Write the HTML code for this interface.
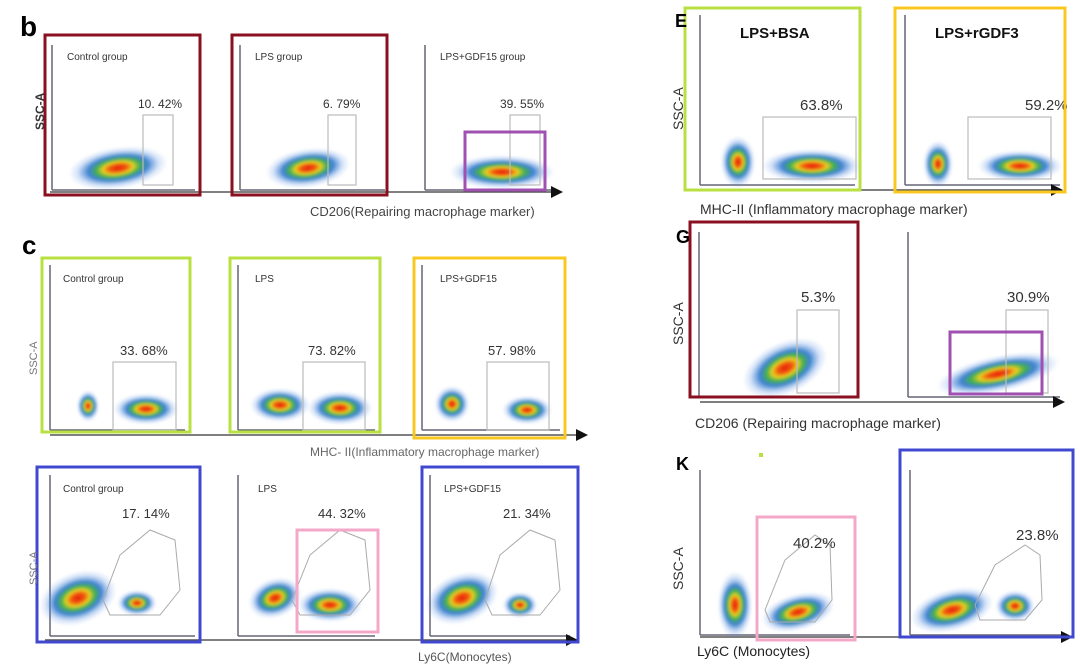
<!DOCTYPE html>
<html><head><meta charset="utf-8">
<style>
html,body{margin:0;padding:0;background:#fff;}
svg{display:block;font-family:"Liberation Sans",sans-serif;}
</style></head>
<body>
<svg id="fig" width="1080" height="670" viewBox="0 0 1080 670" xmlns="http://www.w3.org/2000/svg">
<defs>
<radialGradient id="heat" cx="50%" cy="50%" r="50%">
<stop offset="0" stop-color="#e81c0c"/>
<stop offset="0.22" stop-color="#f05a10"/>
<stop offset="0.38" stop-color="#e8d020"/>
<stop offset="0.55" stop-color="#40b050"/>
<stop offset="0.75" stop-color="#2a70d8" stop-opacity="0.85"/>
<stop offset="1" stop-color="#6a9ae8" stop-opacity="0"/>
</radialGradient>
<filter id="soft"><feGaussianBlur stdDeviation="1.2"/></filter>
<marker id="arr" markerWidth="8" markerHeight="8" refX="6" refY="4" orient="auto"><path d="M0,0 L8,4 L0,8 z" fill="#111"/></marker>
</defs>
</svg>
<script>
// ---- data ----
const panelTitles = ["Control group","LPS group","LPS+GDF15 group","Control group","LPS","LPS+GDF15","Control group","LPS","LPS+GDF15","LPS+BSA","LPS+rGDF3","","","",""];
const percentValues = ["10. 42%","6. 79%","39. 55%","33. 68%","73. 82%","57. 98%","17. 14%","44. 32%","21. 34%","63.8%","59.2%","5.3%","30.9%","40.2%","23.8%"];
const axisTitles = ["CD206(Repairing macrophage marker)","MHC- II(Inflammatory macrophage marker)","Ly6C(Monocytes)","MHC-II (Inflammatory macrophage marker)","CD206 (Repairing macrophage marker)","Ly6C (Monocytes)"];
const panelLetters = ["b","c","E","G","K"];

// ---- layout ----
const svg = document.getElementById('fig');
const NS = "http://www.w3.org/2000/svg";
function mk(tag, attrs, parent){const e=document.createElementNS(NS,tag);for(const k in attrs)e.setAttribute(k,attrs[k]);(parent||svg).appendChild(e);return e;}
function txt(x,y,s,size,opts){opts=opts||{};const t=mk('text',{x:x,y:y,'font-size':size,fill:opts.fill||'#222','font-weight':opts.bold?'bold':'normal'});if(opts.rot)t.setAttribute('transform','rotate(-90 '+x+' '+y+')');if(opts.anchor)t.setAttribute('text-anchor',opts.anchor);t.textContent=s;return t;}

// plot layout: y-axis x, top, bottom, right end; title pos; pct pos; gate; blobs [cx,cy,rx,ry,rot]
const L = [
 {ax:52,top:45,bot:190,right:195,tx:67,ty:60,ts:10,px:138,py:108,ps:12,gate:[143,115,30,70],blobs:[[118,168,40,16,-8]]},
 {ax:240,top:45,bot:190,right:385,tx:255,ty:60,ts:10,px:323,py:108,ps:12,gate:[328,115,28,70],blobs:[[308,168,34,15,-8]]},
 {ax:425,top:45,bot:190,right:555,tx:440,ty:60,ts:10,px:500,py:108,ps:12,gate:[510,115,30,70],blobs:[[502,172,42,13,0]]},
 {ax:50,top:265,bot:430,right:185,tx:63,ty:282,ts:10,px:120,py:355,ps:13,gate:[113,362,63,68],blobs:[[88,406,9,12,0],[146,409,26,12,0]]},
 {ax:238,top:265,bot:430,right:375,tx:255,ty:282,ts:10,px:308,py:355,ps:13,gate:[303,362,62,68],blobs:[[280,405,24,13,0],[340,408,26,13,0]]},
 {ax:422,top:265,bot:430,right:560,tx:440,ty:282,ts:10,px:488,py:355,ps:13,gate:[487,362,62,68],blobs:[[452,404,14,14,0],[527,410,20,11,0]]},
 {ax:50,top:475,bot:636,right:195,tx:63,ty:492,ts:10,px:122,py:518,ps:13,gate:null,poly:"103,600 120,555 150,530 175,540 180,590 160,615 110,615",blobs:[[78,598,32,20,-20],[137,603,16,10,0]]},
 {ax:238,top:475,bot:636,right:375,tx:258,ty:492,ts:10,px:318,py:518,ps:13,gate:null,poly:"292,600 310,555 340,530 365,540 370,590 350,615 300,615",blobs:[[275,598,22,15,-20],[330,605,26,13,0]]},
 {ax:430,top:475,bot:636,right:570,tx:444,ty:492,ts:10,px:503,py:518,ps:13,gate:null,poly:"485,600 500,555 530,530 555,540 560,590 540,615 492,615",blobs:[[462,598,30,19,-20],[520,605,14,10,0]]},
 {ax:700,top:15,bot:185,right:855,tx:740,ty:38,ts:15,tb:true,px:800,py:110,ps:15,gate:[763,117,93,62],blobs:[[738,162,14,20,0],[812,166,40,13,0]]},
 {ax:905,top:15,bot:185,right:1060,tx:935,ty:38,ts:15,tb:true,px:1025,py:110,ps:15,gate:[968,117,83,62],blobs:[[938,164,12,18,0],[1020,166,34,12,0]]},
 {ax:699,top:232,bot:397,right:855,tx:0,ty:0,ts:0,px:801,py:302,ps:15,gate:[797,310,42,83],blobs:[[785,368,36,20,-25]]},
 {ax:908,top:232,bot:397,right:1060,tx:0,ty:0,ts:0,px:1007,py:302,ps:15,gate:[1006,310,42,83],blobs:[[998,374,50,14,-12]]},
 {ax:700,top:470,bot:635,right:850,tx:0,ty:0,ts:0,px:793,py:548,ps:15,gate:null,poly:"765,610 785,560 815,535 830,545 832,600 815,622 770,622",blobs:[[735,605,14,26,0],[798,612,30,14,-15]]},
 {ax:910,top:470,bot:635,right:1065,tx:0,ty:0,ts:0,px:1016,py:540,ps:15,gate:null,poly:"975,605 995,565 1025,545 1040,555 1042,600 1025,620 980,620",blobs:[[952,610,34,16,-15],[1015,606,16,12,0]]}
];

L.forEach((p,i)=>{
  const g = mk('g',{});
  
  
  mk('line',{x1:p.ax,y1:p.top,x2:p.ax,y2:p.bot,stroke:'#667',"stroke-width":1.5},g);
  mk('line',{x1:p.ax,y1:p.bot,x2:p.right,y2:p.bot,stroke:'#667',"stroke-width":1.5},g);
  p.blobs.forEach(b=>{
    mk('ellipse',{cx:b[0],cy:b[1],rx:b[2]*1.25,ry:b[3]*1.3,fill:'url(#heat)',opacity:0.35,filter:'url(#soft)',transform:'rotate('+b[4]+' '+b[0]+' '+b[1]+')'},g);
    const e=mk('ellipse',{cx:b[0],cy:b[1],rx:b[2],ry:b[3],fill:'url(#heat)',filter:'url(#soft)',transform:'rotate('+b[4]+' '+b[0]+' '+b[1]+')'},g);
    
    
  });
  if(p.gate){
    const r=mk('rect',{x:p.gate[0],y:p.gate[1],width:p.gate[2],height:p.gate[3],fill:'none',stroke:'#bbb',"stroke-width":1.2},g);
    
    
  } else if(p.poly){
    const r=mk('polygon',{points:p.poly,fill:'none',stroke:'#aaa',"stroke-width":1},g);
    
    
  }
  if(panelTitles[i]){
    const t=txt(p.tx,p.ty,panelTitles[i],p.ts,{bold:p.tb,fill:p.tb?'#111':'#333'});
    
    
    g.appendChild(t);
  }
  const pt=txt(p.px,p.py,percentValues[i],p.ps,{fill:'#333'});
  
  
  g.appendChild(pt);
});

// long axis arrows
[[50,192,560],[50,435,585],[45,640,575],[700,190,1060],[700,402,1062],[700,637,1070]].forEach(a=>{
  const l=mk('line',{x1:a[0],y1:a[1],x2:a[2],y2:a[1],stroke:'#555',"stroke-width":1.5,"marker-end":'url(#arr)'});
  
  
});

// colored highlight boxes
const boxes=[
 [45,35,155,160,'#8a1020'],[232,35,155,160,'#8a1020'],[465,132,80,58,'#a050b0'],
 [42,258,148,174,'#b8e040'],[230,258,150,174,'#b8e040'],[414,258,151,180,'#f8c820'],
 [37,467,163,175,'#4048d0'],[422,467,156,175,'#4048d0'],[297,530,81,102,'#f4a8c8'],
 [685,8,175,182,'#b8e040'],[895,8,170,184,'#f8c820'],
 [690,222,168,175,'#8a1020'],[950,332,92,62,'#a050b0'],
 [757,517,98,123,'#f4a8c8'],[900,450,173,187,'#4048d0']
];
boxes.forEach(b=>{
  const r=mk('rect',{x:b[0],y:b[1],width:b[2],height:b[3],fill:'none',stroke:b[4],"stroke-width":3});
  
  
});

// axis titles
const at=[[310,216,13,'#444'],[310,456,12,'#666'],[418,661,12,'#555'],[700,214,14,'#333'],[695,428,14,'#333'],[697,656,14,'#222']];
at.forEach((a,i)=>{const t=txt(a[0],a[1],axisTitles[i],a[2],{fill:a[3]});
  
  });
// y titles
[[44,130,12,'#333',true],[37,375,11,'#777',false],[37,585,11,'#777',false],[683,130,14,'#333',false],[683,345,14,'#333',false],[683,590,14,'#333',false]].forEach(a=>{
  const t=txt(a[0],a[1],'SSC-A',a[2],{fill:a[3],rot:true,bold:a[4]});
  
  
});
// panel letters
[[20,36,28],[22,254,26],[675,27,18],[676,243,18],[676,470,18]].forEach((a,i)=>{
  const t=txt(a[0],a[1],panelLetters[i],a[2],{bold:true,fill:'#000'});
  
  
});
mk('rect',{x:759,y:453,width:4,height:4,fill:'#b8e040'});
</script>
</body></html>
